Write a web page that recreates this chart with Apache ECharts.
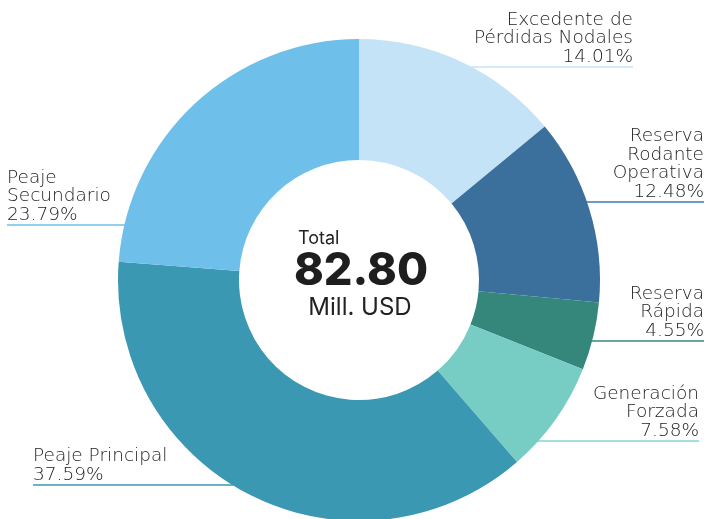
<!DOCTYPE html>
<html>
<head>
<meta charset="utf-8">
<script src="https://cdn.jsdelivr.net/npm/echarts@6/dist/echarts.min.js"></script>
<style>
html,body{margin:0;padding:0;background:#fff;}
#chart{width:707px;height:519px;}
</style>
</head>
<body>
<div id="chart"></div>
<script>
// ---- data ----
var categories = ['Excedente de\nPérdidas Nodales', 'Reserva\nRodante\nOperativa', 'Reserva\nRápida', 'Generación\nForzada', 'Peaje Principal', 'Peaje\nSecundario'];
var shares = [14.01, 12.48, 4.55, 7.58, 37.59, 23.79];
var totalValue = '82.80';
var totalUnit = 'Mill. USD';
var totalTitle = 'Total';

// ---- style / layout ----
var colors = ['#c5e3f6', '#3b6f9c', '#35877c', '#77cdc4', '#3a98b3', '#6fbfeb'];
var lineColors = ['#c5e3f6', '#3f77b5', '#35877c', '#86d4cc', '#3a98b3', '#6fbfeb'];
var CX = 359, CY = 280, R_IN = 120, R_OUT = 241;
// label anchors: side, text edge x, baseline line y
var labelAnchors = [
  {side: 'right', x: 633, y: 67},
  {side: 'right', x: 704, y: 202},
  {side: 'right', x: 704, y: 341},
  {side: 'right', x: 699, y: 441},
  {side: 'left',  x: 33,  y: 485},
  {side: 'left',  x: 7,   y: 225}
];
var FONT = 'DejaVu Sans';
var CFONT = 'Inter';

var chart = echarts.init(document.getElementById('chart'), null, {renderer: 'canvas'});

var data = categories.map(function (c, i) {
  return {
    name: c,
    value: shares[i],
    itemStyle: {color: colors[i]},
    labelLine: {lineStyle: {color: lineColors[i], width: 1.3}}
  };
});

function edgeX(y, side) {
  var dy = y - CY;
  var dx = Math.sqrt(Math.max(0, R_OUT * R_OUT - dy * dy));
  return side === 'right' ? CX + dx - 1 : CX - dx + 1;
}

chart.setOption({
  animation: false,
  backgroundColor: '#ffffff',
  series: [{
    type: 'pie',
    center: [CX, CY],
    radius: [R_IN, R_OUT],
    startAngle: 90,
    clockwise: true,
    avoidLabelOverlap: false,
    data: data,
    label: {
      show: true,
      position: 'outside',
      fontFamily: FONT,
      fontWeight: 200,
      fontSize: 18.5,
      lineHeight: 18.5,
      color: '#222222',
      formatter: function (p) {
        return p.name + '\n' + p.value.toFixed(2) + '%';
      }
    },
    labelLine: {show: true, length: 5, length2: 5},
    labelLayout: function (params) {
      var a = labelAnchors[params.dataIndex];
      var ex = edgeX(a.y, a.side);
      return {
        x: a.x, y: a.y - 1, align: a.side === 'right' ? 'right' : 'left', verticalAlign: 'bottom',
        labelLinePoints: [[ex, a.y], [ex, a.y], [a.x, a.y]]
      };
    },
    emphasis: {disabled: true}
  }],
  graphic: [
    {type: 'text', x: 298, y: 230, style: {text: totalTitle, fontFamily: CFONT, fontSize: 18, fill: '#222', fontWeight: 400, align: 'left', verticalAlign: 'top'}},
    {type: 'text', x: 361, y: 249, style: {text: totalValue, fontFamily: CFONT, fontSize: 45, fontWeight: 800, fill: '#1e1e1e', align: 'center', verticalAlign: 'top'}},
    {type: 'text', x: 360, y: 296, style: {text: totalUnit, fontFamily: CFONT, fontSize: 24, fontWeight: 400, fill: '#222', align: 'center', verticalAlign: 'top'}}
  ]
});
</script>
</body>
</html>
